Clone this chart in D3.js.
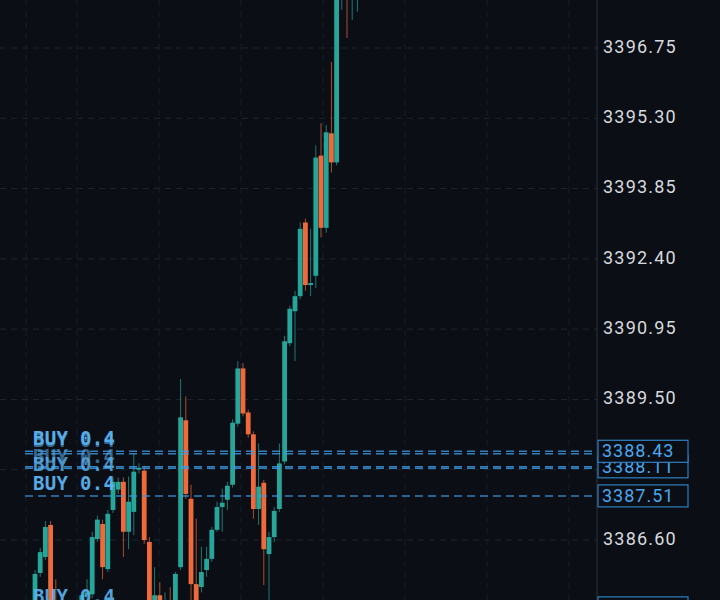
<!DOCTYPE html>
<html><head><meta charset="utf-8">
<script src="https://cdn.jsdelivr.net/npm/d3@7/dist/d3.min.js"></script>
<style>html,body{margin:0;padding:0;background:#0b0e14;overflow:hidden}</style>
</head><body><svg id="c" width="720" height="600"></svg>
<script>
const opens  = [3385.21,3385.92,3386.25,3386.91,3385.36,3385.01,3385.21,3385.01,3385.23,3385.21,3385.46,3385.48,3386.62,3386.93,3386.00,3387.22,3387.64,3387.80,3386.77,3387.18,3388.05,3388.03,3386.56,3385.32,3385.46,3385.21,3385.36,3385.32,3386.04,3389.07,3387.45,3385.69,3385.63,3385.98,3386.21,3386.81,3387.28,3387.43,3387.74,3389.00,3390.14,3389.23,3388.78,3387.24,3387.78,3386.31,3386.66,3387.24,3388.22,3390.66,3391.32,3391.63,3393.15,3391.86,3392.05,3394.53,3393.04,3394.99,3394.39,3397.95,3398.16,3397.95,3398.16];
const highs  = [3385.98,3386.44,3386.99,3386.99,3385.79,3385.32,3385.36,3385.32,3385.36,3385.52,3385.79,3386.77,3387.10,3387.02,3387.22,3387.89,3387.89,3387.89,3387.91,3388.38,3388.18,3388.13,3386.66,3386.04,3385.73,3385.52,3385.63,3385.94,3389.92,3389.56,3387.74,3387.04,3386.46,3386.46,3386.87,3387.39,3387.66,3387.80,3389.09,3390.29,3390.25,3389.29,3388.84,3388.59,3387.84,3386.77,3387.28,3388.59,3390.81,3391.43,3391.74,3393.15,3393.23,3393.02,3394.74,3395.20,3395.16,3396.46,3398.37,3398.68,3398.57,3398.68,3398.68];
const lows   = [3385.11,3385.84,3386.19,3385.01,3385.07,3384.90,3384.94,3384.90,3384.99,3385.11,3385.32,3385.40,3386.56,3385.79,3385.94,3387.16,3387.55,3386.25,3386.41,3386.70,3387.97,3386.52,3385.01,3385.23,3385.19,3385.11,3385.15,3385.23,3385.98,3387.45,3385.32,3385.21,3385.52,3385.84,3386.15,3386.77,3386.77,3387.22,3387.68,3388.94,3389.15,3388.71,3387.04,3386.91,3385.67,3385.32,3386.56,3387.18,3388.16,3390.60,3390.29,3391.57,3391.74,3391.63,3391.80,3392.84,3392.94,3394.18,3394.33,3397.54,3396.96,3397.33,3397.50];
const closes = [3385.90,3386.35,3386.87,3385.11,3385.19,3385.21,3385.07,3385.23,3385.11,3385.46,3385.52,3386.66,3387.02,3386.04,3387.14,3387.80,3387.80,3386.77,3387.39,3388.01,3388.09,3386.60,3385.11,3385.46,3385.32,3385.36,3385.23,3385.90,3389.13,3387.55,3385.69,3385.36,3385.94,3386.21,3386.81,3387.28,3387.37,3387.72,3389.02,3390.14,3389.21,3388.78,3387.24,3387.70,3386.41,3386.66,3387.20,3388.18,3390.70,3391.37,3391.63,3393.02,3391.86,3391.90,3394.49,3393.04,3395.01,3394.39,3398.16,3398.37,3397.95,3398.37,3398.57];
const tickLabels = ["3386.60","3388.05","3389.50","3390.95","3392.40","3393.85","3395.30","3396.75"];
const orderPrices = [3388.43,3388.38,3388.11,3388.08,3387.51,3385.20];
const orderLabels = ["BUY 0.4","BUY 0.4","BUY 0.4","BUY 0.4","BUY 0.4","BUY 0.4"];
const boxPrices = ["3388.11","3388.43","3387.51","3385.20"];

const svg = d3.select("#c");
const n = opens.length;
const x = d3.scaleLinear().domain([0, n-1]).range([35, 35 + 5.2*(n-1)]);
const y = d3.scaleLinear().domain([3386.60, 3396.75]).range([540, 48]);
const axisX = 597;

const g = svg.append("g");
tickLabels.forEach(t => {
  g.append("line").attr("x1",0).attr("x2",axisX).attr("y1",y(+t)).attr("y2",y(+t))
   .attr("stroke","#1c2531").attr("stroke-dasharray","6,5").attr("stroke-width",1);
});
[26,77,159,241,323,405,487,569].forEach(v=>{
  g.append("line").attr("x1",v).attr("x2",v).attr("y1",0).attr("y2",600)
   .attr("stroke","#161e28").attr("stroke-dasharray","6,5");
});
svg.append("line").attr("x1",axisX).attr("x2",axisX).attr("y1",0).attr("y2",600).attr("stroke","#2a323d");

const up="#26a69a", dn="#ef6a3a";
const cg = svg.append("g");
for (let i=0;i<n;i++){
  const col = closes[i]>=opens[i]?up:dn;
  cg.append("line").attr("x1",x(i)).attr("x2",x(i)).attr("y1",y(highs[i])).attr("y2",y(lows[i]))
    .attr("stroke",col).attr("stroke-width",1).attr("opacity",0.7);
  const t=Math.min(y(opens[i]),y(closes[i])), b=Math.max(y(opens[i]),y(closes[i]));
  cg.append("rect").attr("x",x(i)-2.4).attr("width",4.8).attr("y",t).attr("height",Math.max(1.5,b-t)).attr("fill",col);
}

const blue="#3d9be6";
orderPrices.forEach((p,i)=>{
  svg.append("line").attr("x1",25).attr("x2",axisX).attr("y1",y(p)).attr("y2",y(p))
    .attr("stroke",blue).attr("stroke-width",1.5).attr("stroke-dasharray","8,5").attr("opacity",0.8);
});
const labelOffsets=[-12,-12,-9,-3,-11,-10];
const labelAlpha=[0.95,0.55,0.55,0.8,0.95,0.9];
orderPrices.forEach((p,i)=>{
  svg.append("text").attr("x",33).attr("y",y(p)+labelOffsets[i]).attr("dominant-baseline","middle")
    .attr("fill","#5cb3f0").attr("opacity",labelAlpha[i]).attr("font-family","DejaVu Sans Mono")
    .attr("font-size",19).attr("font-weight","bold").attr("letter-spacing",0.3).text(orderLabels[i]);
});

tickLabels.forEach(t=>{
  svg.append("text").attr("x",603).attr("y",y(+t)).attr("dominant-baseline","middle")
    .attr("fill","#d6d9de").attr("font-family","Roboto").attr("font-size",18).attr("letter-spacing",1.2).text(t);
});
boxPrices.forEach(t=>{
  const cy=y(+t);
  svg.append("rect").attr("x",598).attr("y",cy-11).attr("width",90).attr("height",22)
    .attr("fill","#0b0e14").attr("stroke","#2f7fc1").attr("stroke-width",1.2);
  svg.append("text").attr("x",602).attr("y",cy+1).attr("dominant-baseline","middle")
    .attr("fill","#4aa6ee").attr("font-family","Roboto").attr("font-size",18).attr("letter-spacing",1).text(t);
});
</script></body></html>
